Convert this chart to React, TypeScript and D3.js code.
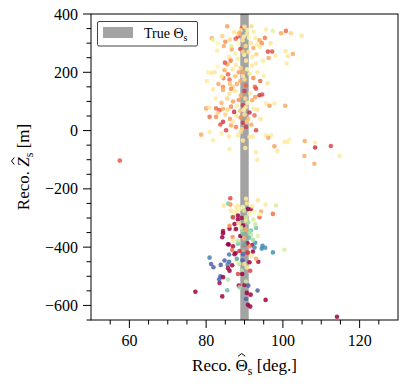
import React, { useLayoutEffect, useRef, useState } from "react";
import * as d3 from "d3";

// [theta (deg), z (m), colour value on Spectral]
const upperCluster: [number, number, number][] = [
  [85.5, 358, 0.28], [89.3, 352, 0.18], [90.0, 356, 0.44], [91.8, 358, 0.4], [95.6, 347, 0.44],
  [97.4, 342, 0.6], [99.5, 334, 0.3], [100.8, 342, 0.2], [102.1, 334, 0.38], [104.9, 325, 0.43],
  [81.5, 317, 0.3], [81.8, 311, 0.58], [84.2, 324, 0.38], [84.6, 290, 0.3], [86.6, 290, 0.6],
  [87.3, 338, 0.42], [87.7, 315, 0.18], [88.3, 323, 0.13], [88.2, 331, 0.44], [89.0, 344, 0.42],
  [90.6, 331, 0.44], [91.2, 318, 0.5], [91.6, 300, 0.42], [92.4, 338, 0.44], [92.9, 317, 0.44],
  [93.9, 310, 0.3], [93.3, 295, 0.46], [94.5, 300, 0.25], [94.0, 288, 0.42], [96.1, 271, 0.13],
  [97.2, 271, 0.15], [96.3, 249, 0.3], [98.0, 257, 0.44], [100.7, 273, 0.43], [101.3, 255, 0.42],
  [102.6, 263, 0.3], [101.0, 230, 0.44], [88.9, 280, 0.13], [86.7, 278, 0.3], [87.6, 264, 0.58],
  [89.9, 260, 0.5], [86.0, 252, 0.42], [86.4, 240, 0.22], [85.5, 227, 0.3], [84.9, 233, 0.15],
  [88.2, 246, 0.44], [91.0, 270, 0.42], [92.0, 252, 0.44], [93.1, 262, 0.38], [94.8, 240, 0.44],
  [90.4, 240, 0.43], [83.0, 300, 0.52], [82.9, 275, 0.44], [85.0, 305, 0.25], [86.2, 312, 0.4],
  [88.4, 298, 0.5], [89.5, 310, 0.43], [92.3, 283, 0.3], [95.3, 318, 0.22], [96.8, 300, 0.42],
  [89.8, 322, 0.46], [90.3, 290, 0.4], [89.6, 270, 0.36], [90.8, 345, 0.48], [88.7, 335, 0.3],
  [81.3, 198, 0.44], [80.5, 200, 0.46], [82.2, 200, 0.42], [84.8, 207, 0.3], [84.5, 180, 0.22],
  [85.7, 193, 0.18], [86.9, 210, 0.42], [87.6, 186, 0.34], [88.5, 200, 0.28], [88.9, 170, 0.3],
  [89.6, 187, 0.44], [90.7, 210, 0.5], [91.3, 195, 0.42], [92.3, 180, 0.25], [93.4, 200, 0.43],
  [94.1, 170, 0.18], [95.0, 188, 0.44], [96.0, 162, 0.42], [83.2, 160, 0.3], [84.4, 150, 0.25],
  [86.2, 160, 0.34], [87.0, 150, 0.38], [88.0, 160, 0.3], [86.1, 175, 0.2], [83.0, 220, 0.5],
  [91.9, 222, 0.44], [93.0, 230, 0.44], [89.0, 215, 0.38], [90.4, 155, 0.18], [92.7, 150, 0.2],
  [84.0, 185, 0.43], [80.2, 170, 0.44], [90.0, 175, 0.4], [89.7, 200, 0.3], [87.8, 225, 0.42],
  [81.8, 142, 0.44], [84.4, 139, 0.3], [86.5, 143, 0.25], [87.6, 136, 0.42], [90.0, 136, 0.1],
  [93.0, 144, 0.14], [93.9, 121, 0.1], [94.6, 124, 0.12], [92.0, 104, 0.3], [95.6, 93, 0.44],
  [96.5, 85, 0.28], [97.8, 93, 0.44], [100.6, 85, 0.3], [80.0, 76, 0.3], [80.9, 79, 0.42],
  [82.6, 76, 0.2], [83.5, 70, 0.17], [84.4, 75, 0.3], [85.6, 72, 0.38], [87.3, 64, 0.08],
  [88.0, 85, 0.44], [89.6, 87, 0.1], [90.3, 80, 0.44], [91.3, 62, 0.08], [92.4, 75, 0.44],
  [93.4, 72, 0.42], [80.9, 47, 0.2], [82.6, 47, 0.25], [84.4, 30, 0.1], [83.7, 21, 0.15],
  [86.5, 18, 0.3], [89.6, 27, 0.1], [90.4, 12, 0.1], [93.0, 1, 0.13], [85.2, 1, 0.12],
  [85.0, 55, 0.38], [86.2, 40, 0.28], [87.9, 50, 0.42], [89.0, 45, 0.25], [91.0, 40, 0.34],
  [92.6, 52, 0.2], [94.2, 40, 0.42], [84.0, 95, 0.32], [85.5, 110, 0.38], [87.0, 100, 0.28],
  [89.0, 120, 0.3], [91.5, 128, 0.44], [86.0, 125, 0.42], [82.5, 110, 0.44], [88.5, 105, 0.25],
  [90.8, 95, 0.5], [92.8, 115, 0.28], [83.0, 60, 0.38], [86.5, 82, 0.25], [88.8, 68, 0.34],
  [90.0, 55, 0.42], [87.0, 30, 0.43], [89.3, 5, 0.38], [91.8, 20, 0.3], [87.8, 12, 0.22],
  [90.2, 110, 0.4], [89.8, 70, 0.46], [90.6, 30, 0.36],
  [78.7, -14, 0.3], [80.9, -5, 0.44], [81.8, -33, 0.44], [86.0, -20, 0.43], [88.3, -17, 0.44],
  [89.6, -34, 0.44], [91.3, -22, 0.44], [92.2, -20, 0.44], [95.6, -16, 0.44], [96.9, -16, 0.44],
  [96.2, -25, 0.3], [97.8, -54, 0.28], [98.6, -70, 0.43], [100.4, -39, 0.44], [101.2, -39, 0.44],
  [101.7, -31, 0.48], [105.7, -36, 0.3], [108.4, -41, 0.44], [108.4, -58, 0.08], [112.5, -53, 0.12],
  [114.8, -87, 0.44], [105.6, -87, 0.3], [108.2, -114, 0.3], [86.1, -63, 0.44], [90.2, -60, 0.44],
  [93.0, -74, 0.44], [93.3, -101, 0.44], [89.0, -5, 0.4], [84.0, -10, 0.44],
];

const lowerCluster: [number, number, number][] = [
  [86.3, -232, 0.12], [90.4, -234, 0.44], [93.5, -239, 0.42], [86.3, -254, 0.25], [84.6, -258, 0.42],
  [95.5, -254, 0.44], [98.2, -257, 0.62], [87.8, -262, 0.44], [88.8, -268, 0.46], [90.9, -269, 0.0],
  [91.7, -269, 0.02], [94.3, -278, 0.3], [97.4, -286, 0.2], [93.9, -297, 0.18], [86.5, -275, 0.42],
  [86.8, -295, 0.62], [87.7, -285, 0.46], [88.3, -305, 0.0], [89.3, -300, 0.03], [90.4, -298, 0.65],
  [91.2, -285, 0.46], [92.3, -305, 0.62], [89.6, -326, 0.0], [93.0, -334, 0.78], [84.4, -345, 0.02],
  [84.2, -366, 0.0], [86.1, -337, 0.0], [87.5, -340, 0.65], [86.9, -365, 0.25], [88.9, -362, 0.0],
  [89.4, -350, 0.68], [90.3, -340, 0.3], [91.7, -343, 0.78], [91.7, -358, 0.65], [91.2, -368, 0.8],
  [85.9, -391, 0.0], [87.0, -397, 0.02], [88.3, -388, 0.78], [90.0, -393, 0.15], [90.8, -387, 0.02],
  [92.0, -393, 0.02], [92.8, -385, 0.88], [94.7, -395, 0.9], [94.5, -405, 0.9], [95.4, -402, 0.88],
  [97.4, -418, 0.88], [100.4, -409, 0.62], [86.0, -425, 0.92], [87.7, -420, 0.02], [89.4, -415, 0.3],
  [90.7, -418, 0.12], [80.9, -436, 0.9], [81.3, -458, 0.97], [81.9, -469, 0.97], [83.8, -461, 0.97],
  [84.8, -446, 0.97], [85.6, -460, 0.9], [86.0, -450, 0.95], [86.8, -462, 0.0], [86.1, -481, 0.0],
  [85.7, -472, 0.02], [87.8, -447, 0.46], [88.6, -458, 0.65], [89.5, -445, 0.97], [90.0, -458, 0.42],
  [91.3, -452, 0.0], [93.6, -450, 0.02], [91.5, -481, 0.12], [90.6, -470, 0.44], [89.3, -480, 0.68],
  [88.3, -492, 0.12], [89.4, -492, 0.0], [83.7, -500, 0.97], [84.4, -503, 0.0], [83.4, -510, 0.97],
  [85.7, -511, 0.68], [83.5, -523, 0.02], [77.2, -553, 0.0], [85.5, -548, 0.8], [84.2, -569, 0.0],
  [88.5, -532, 0.02], [88.7, -538, 0.72], [90.0, -530, 0.02], [90.4, -518, 0.65], [91.0, -532, 0.97],
  [90.6, -557, 0.0], [91.6, -563, 0.0], [93.4, -549, 0.97], [95.5, -581, 0.0], [90.4, -578, 0.97],
  [90.9, -598, 0.0], [91.5, -604, 0.0],
  [88.0, -275, 0.44], [88.3, -292, 0.0], [87.0, -298, 0.1], [87.4, -321, 0.0], [86.1, -327, 0.25],
  [87.8, -338, 0.0], [89.1, -333, 0.62], [90.4, -310, 0.44], [93.9, -287, 0.5], [89.6, -355, 0.8],
  [91.3, -350, 0.7], [84.4, -352, 0.0], [85.7, -390, 0.0], [87.0, -378, 0.44], [88.3, -378, 0.65],
  [90.0, -390, 0.82], [91.3, -398, 0.25], [92.6, -401, 0.9], [88.7, -413, 0.08], [87.4, -424, 0.0],
  [89.6, -424, 0.95], [90.9, -419, 0.1], [85.7, -250, 0.75], [88.3, -258, 0.44], [89.6, -262, 0.5],
  [90.6, -250, 0.42], [92.0, -260, 0.44], [89.9, -275, 0.65], [92.6, -278, 0.55], [91.0, -315, 0.7],
  [92.8, -322, 0.65], [88.5, -318, 0.38], [89.9, -370, 0.3], [92.2, -375, 0.7], [93.5, -362, 0.6],
  [86.8, -410, 0.2], [91.8, -430, 0.44], [93.0, -440, 0.3], [88.0, -440, 0.85], [92.2, -415, 0.0],
];

const outliers: [number, number, number][] = [
  [57.5, -103, 0.15], [114.1, -639, 0.0],
];

const xTicks = [60, 80, 100, 120];
const yTicks = [-600, -400, -200, 0, 200, 400];
const trueTheta = 90;
const bandHalfWidth = 1.1;

const W = 407;
const H = 387;
const font = "'Liberation Serif', 'DejaVu Serif', serif";

// small circumflex drawn above a glyph
function Hat({ cx, base, lean = 0 }: { cx: number; base: number; lean?: number }) {
  const top = base - 17.5;
  return (
    <path
      d={`M${cx - 3.6 + lean},${top + 2.8} L${cx + lean},${top} L${cx + 3.6 + lean},${top + 2.8}`}
      fill="none"
      stroke="#000"
      strokeWidth={1}
    />
  );
}

export default function App() {
  const x = d3.scaleLinear().domain([50, 130]).range([91, 398]);
  const y = d3.scaleLinear().domain([-650, 400]).range([320, 14]);
  const [x0, x1] = x.range();
  const [y0, y1] = y.range();

  const xMinor = d3.range(55, 130, 5).filter((v) => !xTicks.includes(v));
  const yMinor = d3.range(-650, 401, 50).filter((v) => !yTicks.includes(v));
  const fmt = d3.format("d");

  const points = [...upperCluster, ...lowerCluster, ...outliers];

  const xLab = useRef<SVGTextElement>(null);
  const yLab = useRef<SVGTextElement>(null);
  const [hats, setHats] = useState<{ xh: number; yh: number } | null>(null);

  useLayoutEffect(() => {
    if (!xLab.current || !yLab.current) return;
    const ex = xLab.current.getExtentOfChar(6);
    const ey = yLab.current.getExtentOfChar(6);
    setHats({ xh: ex.x + ex.width / 2, yh: ey.x + ey.width / 2 });
  }, []);

  const xBase = 371;
  const yMid = (y0 + y1) / 2;

  return (
    <svg
      width={W}
      height={H}
      style={{ position: "absolute", left: 0, top: 0, background: "#fff" }}
      fontFamily={font}
    >
      <rect
        x={x(trueTheta - bandHalfWidth)}
        y={y1}
        width={x(trueTheta + bandHalfWidth) - x(trueTheta - bandHalfWidth)}
        height={y0 - y1}
        fill="#a3a3a3"
      />
      <g>
        {points.map((d, i) => (
          <circle
            key={i}
            cx={x(d[0])}
            cy={y(d[1])}
            r={2.3}
            fill={d3.interpolateSpectral(d[2])}
            fillOpacity={0.85}
          />
        ))}
      </g>

      <rect x={x0} y={y1} width={x1 - x0} height={y0 - y1} fill="none" stroke="#000" strokeWidth={1} />

      {xTicks.map((t) => (
        <g key={"xt" + t}>
          <line x1={x(t)} x2={x(t)} y1={y0} y2={y0 + 8} stroke="#000" />
          <text x={x(t)} y={y0 + 26} textAnchor="middle" fontSize={16}>
            {fmt(t)}
          </text>
        </g>
      ))}
      {xMinor.map((t) => (
        <line key={"xm" + t} x1={x(t)} x2={x(t)} y1={y0} y2={y0 + 4.5} stroke="#000" />
      ))}
      {yTicks.map((t) => (
        <g key={"yt" + t}>
          <line x1={x0 - 8} x2={x0} y1={y(t)} y2={y(t)} stroke="#000" />
          <text x={x0 - 13} y={y(t)} dy="0.35em" textAnchor="end" fontSize={16}>
            {fmt(t)}
          </text>
        </g>
      ))}
      {yMinor.map((t) => (
        <line key={"ym" + t} x1={x0 - 4.5} x2={x0} y1={y(t)} y2={y(t)} stroke="#000" />
      ))}

      <text ref={xLab} x={(x0 + x1) / 2} y={xBase} textAnchor="middle" fontSize={17}>
        <tspan>Reco. Θ</tspan>
        <tspan dy={4} fontSize={12}>s</tspan>
        <tspan dy={-4}> [deg.]</tspan>
      </text>
      {hats && <Hat cx={hats.xh} base={xBase} />}

      <g transform={`translate(29,${yMid}) rotate(-90)`}>
        <text ref={yLab} x={0} y={0} textAnchor="middle" fontSize={17}>
          <tspan>Reco. </tspan>
          <tspan fontStyle="italic">Z</tspan>
          <tspan dy={4} fontSize={12}>s</tspan>
          <tspan dy={-4}> [m]</tspan>
        </text>
        {hats && <Hat cx={hats.yh} base={0} lean={1} />}
      </g>

      <g>
        <rect x={97.5} y={21.5} width={100} height={24.5} fill="#fff" stroke="#444" strokeWidth={1} rx={1.5} />
        <rect x={103} y={27} width={30} height={11} fill="#a3a3a3" />
        <text x={144} y={38} fontSize={14}>
          <tspan>True Θ</tspan>
          <tspan dy={3} fontSize={10}>s</tspan>
        </text>
      </g>
    </svg>
  );
}
